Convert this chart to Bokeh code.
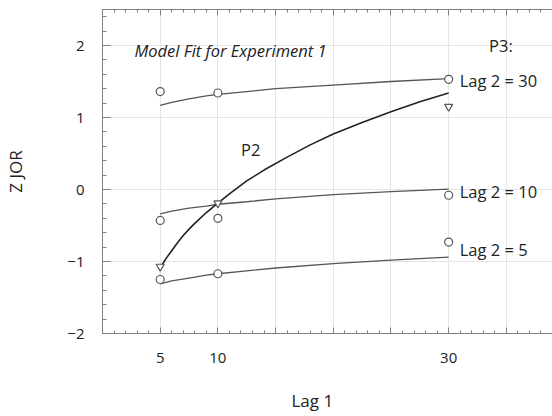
import math
from bokeh.plotting import figure
from bokeh.models import LinearAxis, FixedTicker, Label, Title
from bokeh.embed import file_html
from bokeh.resources import INLINE

# ---- data ----
lag1 = [5, 10, 30]
obs_lag2_30 = [1.36, 1.34, 1.53]
obs_lag2_10 = [-0.43, -0.40, -0.08]
obs_lag2_5 = [-1.25, -1.17, -0.73]
obs_p2 = [-1.07, -0.19, 1.15]

fit_x = [5, 6, 7.5, 9, 10, 12.5, 15, 20, 25, 30]
fit_lag2_30 = [1.17, 1.21, 1.26, 1.30, 1.32, 1.36, 1.40, 1.45, 1.50, 1.54]
fit_lag2_10 = [-0.34, -0.30, -0.26, -0.23, -0.205, -0.17, -0.13, -0.07, -0.03, 0.005]
fit_lag2_5 = [-1.31, -1.27, -1.23, -1.19, -1.17, -1.13, -1.09, -1.03, -0.98, -0.94]

fit_x_p2 = [5, 5.5, 6, 6.5, 7, 7.5, 8, 9, 10, 11, 12.5, 14, 16, 18, 20, 22.5, 25, 27.5, 30]
fit_p2 = [-1.09, -0.96, -0.85, -0.74, -0.64, -0.55, -0.47, -0.32, -0.19, -0.06,
          0.12, 0.27, 0.45, 0.62, 0.77, 0.93, 1.08, 1.22, 1.34]

x_major = [0, 5, 10, 15, 20, 25, 30, 35]
x_labels = {0: "", 5: "5", 10: "10", 15: "", 20: "", 25: "", 30: "30", 35: ""}
x_minor = list(range(0, 40))
y_major = [-2, -1, 0, 1, 2]
y_labels = {-2: "\u22122", -1: "\u22121", 0: "0", 1: "1", 2: "2"}
y_minor = [round(-2 + 0.2 * i, 1) for i in range(23)]

FONT = "Open Sans"
TXT = "#222222"
AX = "#808080"

p = figure(width=552, height=416, x_range=(0, 39), y_range=(-2, 2.5),
           output_backend="svg", toolbar_location=None,
           x_axis_location=None, y_axis_location=None,
           min_border_left=102, min_border_right=0, min_border_top=9, min_border_bottom=83)
p.outline_line_color = None
p.background_fill_color = "white"
p.border_fill_color = "white"

def style_axis(ax, major_in, minor_in, labels, size="15px"):
    ax.axis_line_color = AX
    ax.axis_line_width = 1
    ax.major_tick_line_color = AX
    ax.minor_tick_line_color = AX
    ax.major_tick_in = major_in
    ax.major_tick_out = 0
    ax.minor_tick_in = minor_in
    ax.minor_tick_out = 0
    ax.major_label_text_font = FONT
    ax.major_label_text_font_size = size
    ax.major_label_text_color = TXT
    if labels is not None:
        ax.major_label_overrides = labels

xb = LinearAxis(ticker=FixedTicker(ticks=x_major, minor_ticks=x_minor))
style_axis(xb, 6, 3, x_labels)
xb.major_label_standoff = 19
p.add_layout(xb, "below")

# invisible spacer between the tick labels and the x title
spacer = LinearAxis(ticker=FixedTicker(ticks=[0], minor_ticks=[]))
spacer.axis_line_color = None
spacer.major_tick_line_color = None
spacer.major_tick_in = 0
spacer.major_tick_out = 19
spacer.major_label_standoff = 0
spacer.major_label_text_font_size = "0px"
spacer.major_label_overrides = {0: ""}
p.add_layout(spacer, "below")

xt = LinearAxis(ticker=FixedTicker(ticks=x_major, minor_ticks=x_minor))
style_axis(xt, 6, 3, {k: "" for k in x_major}, size="0px")
xt.major_label_standoff = 0
p.add_layout(xt, "above")

yl = LinearAxis(ticker=FixedTicker(ticks=y_major, minor_ticks=y_minor))
style_axis(yl, 8, 4, y_labels)
yl.major_label_standoff = 18
yl.axis_label = "Z JOR"
yl.axis_label_text_font = FONT
yl.axis_label_text_font_size = "17px"
yl.axis_label_text_font_style = "normal"
yl.axis_label_text_color = TXT
yl.axis_label_standoff = 37
p.add_layout(yl, "left")

x_title = Title(text="Lag 1", align="left", offset=189, text_font=FONT,
                text_font_size="17px", text_font_style="normal", text_color=TXT,
                standoff=4)
p.add_layout(x_title, "below")

# fitted curves
for xs, ys, col, w in [(fit_x, fit_lag2_30, "#555555", 1.3), (fit_x, fit_lag2_10, "#555555", 1.3),
                       (fit_x, fit_lag2_5, "#555555", 1.3), (fit_x_p2, fit_p2, "#222222", 1.6)]:
    p.line(xs, ys, line_color=col, line_width=w)

# observed points
for ys in [obs_lag2_30, obs_lag2_10, obs_lag2_5]:
    p.scatter(lag1, ys, marker="circle", size=8, fill_color="white",
              line_color="#555555", line_width=1.2)
p.scatter(lag1, obs_p2, marker="inverted_triangle", size=8, fill_color="white",
          line_color="#555555", line_width=1.2)

# text annotations
def lab(text, x, y, size="16.5px", style="normal", align="left"):
    p.add_layout(Label(x=x, y=y, text=text, text_font=FONT, text_font_size=size,
                       text_font_style=style, text_color=TXT, text_align=align,
                       text_baseline="middle"))

lab("Model Fit for Experiment 1", 2.77, 1.93, size="16.5px", style="italic")
lab("P3:", 33.5, 2.0)
lab("Lag 2 = 30", 30.96, 1.51)
lab("Lag 2 = 10", 30.96, -0.03)
lab("Lag 2 = 5", 30.96, -0.84)
lab("P2", 12.0, 0.55)

open("out.html", "w").write(file_html(p, INLINE))
